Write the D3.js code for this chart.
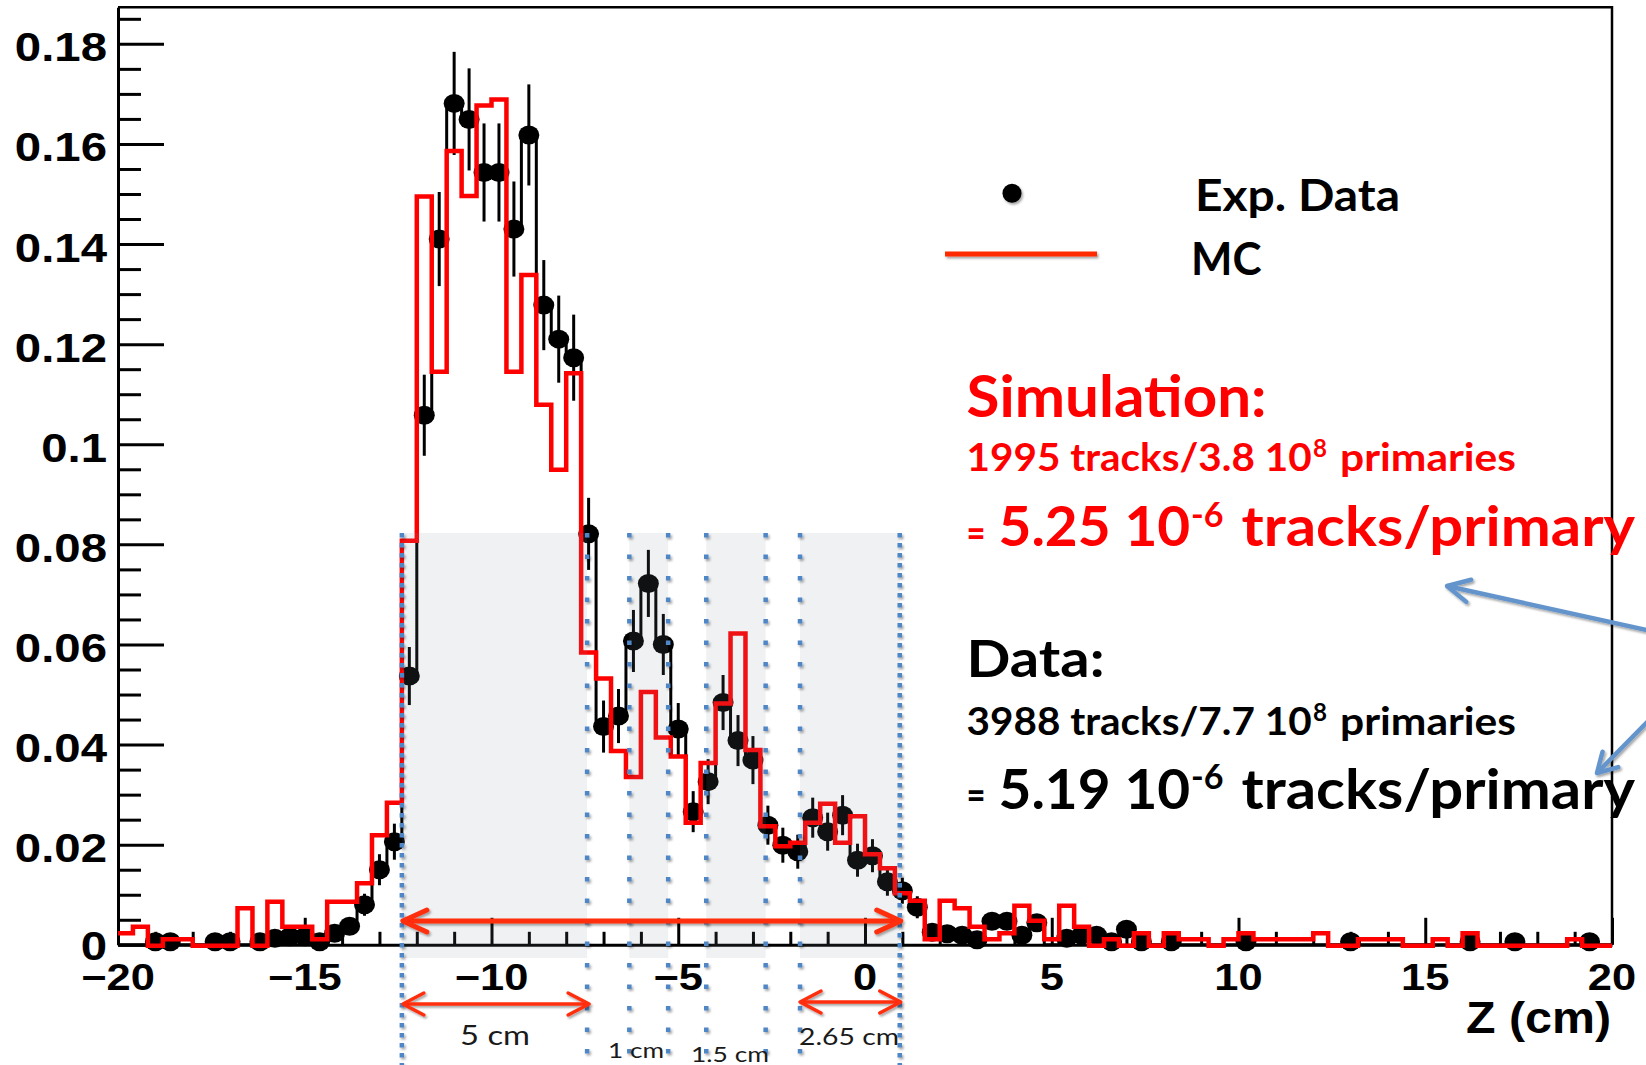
<!DOCTYPE html>
<html><head><meta charset="utf-8">
<script src="https://cdn.jsdelivr.net/npm/d3@7"></script>
<style>html,body{margin:0;padding:0;background:#fff;} svg{display:block;}</style>
</head><body>
<svg id="chart" width="1646" height="1065"></svg>
<script>
// ---------------- DATA ----------------
const binLow = -20, binWidth = 0.4;   // 100 bins, -20..20 cm
const mcValues = [
 0.0025,0.0038,0,0.0013,0.0013,0,0,0,0.0075,0,
 0.0088,0.0038,0.0038,0.0013,0.0088,0.0088,0.0125,0.0221,0.0286,0.0809,
 0.1497,0.1147,0.1588,0.1498,0.1679,0.1691,0.1147,0.1340,0.1081,0.0951,
 0.1144,0.0586,0.0534,0.0389,0.0337,0.0507,0.0416,0.0378,0.0246,0.0365,
 0.0484,0.0624,0.0391,0.0239,0.0199,0.0206,0.0246,0.0284,0.0206,0.0259,
 0.0183,0.0155,0.0105,0.0090,0.0013,0.0090,0.0075,0.0038,0.0013,0.0025,
 0.0080,0.0050,0.0013,0.0080,0.0038,0,0.0013,0,0.0025,0,
 0.0025,0.0013,0.0013,0,0.0013,0.0025,0.0013,0.0013,0.0013,0.0013,
 0.0025,0,0,0.0013,0.0013,0.0013,0,0,0.0013,0,
 0.0025,0,0,0,0,0,0,0.0013,0,0
];
const dataValues = [
 0,0,0.0006,0.0006,0,0,0.0006,0.0006,0,0.0006,
 0.0013,0.0016,0.0016,0.0006,0.0023,0.0037,0.0080,0.0150,0.0206,0.0537,
 0.1058,0.1410,0.1681,0.1649,0.1543,0.1543,0.1430,0.1618,0.1278,0.1210,
 0.1173,0.0821,0.0436,0.0457,0.0607,0.0722,0.0600,0.0431,0.0266,0.0326,
 0.0484,0.0408,0.0369,0.0239,0.0199,0.0186,0.0254,0.0226,0.0259,0.0169,
 0.0178,0.0126,0.0108,0.0075,0.0025,0.0022,0.0019,0.0010,0.0047,0.0047,
 0.0019,0.0044,0,0.0013,0.0019,0.0019,0.0006,0.0031,0.0006,0,
 0.0006,0,0,0,0,0.0006,0,0,0,0,
 0,0,0.0006,0,0,0,0,0,0,0,
 0.0006,0,0,0.0006,0,0,0,0,0.0006,0
];
const dataErrors = [
 0,0,0.0006,0.0006,0,0,0.0006,0.0006,0,0.0006,
 0.0009,0.0010,0.0010,0.0006,0.0012,0.0015,0.0022,0.0031,0.0036,0.0058,
 0.0081,0.0094,0.0103,0.0102,0.0098,0.0098,0.0095,0.0101,0.0090,0.0087,
 0.0086,0.0072,0.0052,0.0054,0.0062,0.0067,0.0061,0.0052,0.0041,0.0045,
 0.0055,0.0051,0.0048,0.0039,0.0035,0.0034,0.0040,0.0038,0.0040,0.0033,
 0.0033,0.0028,0.0026,0.0022,0.0013,0.0012,0.0011,0.0008,0.0017,0.0017,
 0.0011,0.0017,0,0.0009,0.0011,0.0011,0.0006,0.0014,0.0006,0,
 0.0006,0,0,0,0,0.0006,0,0,0,0,
 0,0,0.0006,0,0,0,0,0,0,0,
 0.0006,0,0,0.0006,0,0,0,0,0.0006,0
];
const yTickValues = [0,0.02,0.04,0.06,0.08,0.1,0.12,0.14,0.16,0.18];
const yTickLabels = ["0","0.02","0.04","0.06","0.08","0.1","0.12","0.14","0.16","0.18"];
const xTickValues = [-20,-15,-10,-5,0,5,10,15,20];
const xTickLabels = ["\u221220","\u221215","\u221210","\u22125","0","5","10","15","20"];
const xTitle = "Z (cm)";
// target segment boundaries (cm) and their labels
const segmentEdges = [-12.40,-7.44,-6.31,-5.27,-4.25,-2.66,-1.74,0.93];
const segmentLabels = ["5 cm","1 cm","1.5 cm","2.65 cm"];
const legendLabels = ["Exp. Data","MC"];

// ---------------- SETUP ----------------
const svg = d3.select("#chart");
const W = 1646, H = 1065;
const x = d3.scaleLinear().domain([-20,20]).range([118,1612]);
const y = d3.scaleLinear().domain([0,0.1873]).range([944.8,7.3]);
const defs = svg.append("defs");
const f = defs.append("filter").attr("id","shadow").attr("filterUnits","userSpaceOnUse")
  .attr("x",0).attr("y",0).attr("width",W).attr("height",H);
f.append("feDropShadow").attr("dx",1.5).attr("dy",2).attr("stdDeviation",1.3)
  .attr("flood-color","#000").attr("flood-opacity",0.35);

const tickFont = "'Liberation Sans', Arial, Helvetica, sans-serif";
const annFont = "Lato, 'Open Sans', sans-serif";

// ---------------- AXES ----------------
const yMinor = d3.range(0,0.1851,0.005).filter(v => Math.abs(Math.round(v/0.02)*0.02 - v) > 1e-6);
const xMinor = d3.range(-20,20.01,1).filter(v => v % 5 !== 0);

const gAx = svg.append("g");
gAx.append("g").attr("transform",`translate(${x(-20)},0)`)
  .call(d3.axisLeft(y).tickValues(yTickValues).tickSizeInner(-46).tickSizeOuter(0).tickFormat(""));
gAx.append("g").attr("transform",`translate(${x(-20)},0)`)
  .call(d3.axisLeft(y).tickValues(yMinor).tickSizeInner(-23).tickSizeOuter(0).tickFormat(""))
  .call(g => g.select(".domain").remove());
gAx.append("g").attr("transform",`translate(0,${y(0)})`)
  .call(d3.axisBottom(x).tickValues(xTickValues).tickSizeInner(-27).tickSizeOuter(0).tickFormat(""));
gAx.append("g").attr("transform",`translate(0,${y(0)})`)
  .call(d3.axisBottom(x).tickValues(xMinor).tickSizeInner(-13).tickSizeOuter(0).tickFormat(""))
  .call(g => g.select(".domain").remove());
gAx.selectAll(".tick line").attr("stroke","#000").attr("stroke-width",3);
gAx.selectAll(".domain").attr("stroke","#000").attr("stroke-width",3);
// top & right frame
gAx.append("path").attr("d", d3.line()([[x(-20),y.range()[1]],[x(20),y.range()[1]],[x(20),y(0)]]))
  .attr("fill","none").attr("stroke","#000").attr("stroke-width",2.5);

// tick labels
yTickValues.forEach((v,i) => {
  const base = v === 0 ? y(v)+15 : y(v)+17.5;
  svg.append("text").attr("transform",`translate(107,${base}) scale(1.17,1)`)
    .attr("text-anchor","end").attr("font-family",tickFont).attr("font-weight","bold")
    .attr("font-size",40.5).attr("fill","#000").text(yTickLabels[i]);
});
xTickValues.forEach((v,i) => {
  svg.append("text").attr("transform",`translate(${x(v)},990) scale(1.19,1)`)
    .attr("text-anchor","middle").attr("font-family",tickFont).attr("font-weight","bold")
    .attr("font-size",36.5).attr("fill","#000").text(xTickLabels[i]);
});
svg.append("text").attr("x",1466).attr("y",1033).attr("font-family",tickFont)
  .attr("font-weight","bold").attr("font-size",44).attr("textLength",145)
  .attr("lengthAdjust","spacingAndGlyphs").attr("fill","#000").text(xTitle);

// ---------------- HISTOGRAMS ----------------
const stepPts = vals => vals.map((v,k)=>({z: binLow + k*binWidth, v})).concat([{z: binLow + vals.length*binWidth, v: vals[vals.length-1]}]);
const step = d3.line().x(d=>x(d.z)).y(d=>y(d.v)).curve(d3.curveStepAfter);

const gData = svg.append("g");
gData.append("path").attr("d", step(stepPts(dataValues))).attr("fill","none")
  .attr("stroke","#000").attr("stroke-width",3);
const pts = dataValues.map((v,k)=>({z: binLow + (k+0.5)*binWidth, v, e: dataErrors[k]})).filter(d=>d.v>0);
gData.selectAll("line.err").data(pts).join("line").attr("class","err")
  .attr("x1",d=>x(d.z)).attr("x2",d=>x(d.z))
  .attr("y1",d=>y(d.v-d.e)).attr("y2",d=>y(d.v+d.e))
  .attr("stroke","#000").attr("stroke-width",3);
gData.selectAll("ellipse").data(pts).join("ellipse")
  .attr("cx",d=>x(d.z)).attr("cy",d=>y(d.v)).attr("rx",10.5).attr("ry",9.5).attr("fill","#000");

svg.append("path").attr("d", step(stepPts(mcValues))).attr("fill","none")
  .attr("stroke","#ff0000").attr("stroke-width",4.5).attr("stroke-linejoin","miter")
  .attr("transform","translate(0,1)");

// ---------------- OVERLAYS ----------------
const gOv = svg.append("g");
for (let i=0;i<segmentEdges.length;i+=2){
  gOv.append("rect").attr("x",x(segmentEdges[i])).attr("y",533)
    .attr("width",x(segmentEdges[i+1])-x(segmentEdges[i])).attr("height",958-533)
    .attr("fill","#7f8da0").attr("opacity",0.12);
}
segmentEdges.forEach((z,i) => {
  const outer = (i===0 || i===segmentEdges.length-1);
  gOv.append("line").attr("x1",x(z)).attr("x2",x(z)).attr("y1",533).attr("y2",H)
    .attr("stroke","#4f86c6").attr("stroke-width",4.5)
    .attr("stroke-dasharray", outer ? "4.5 5.5" : "4.5 17")
    .attr("filter","url(#shadow)");
});

// red dimension arrows
const red = "#ff2d0d";
function arrow(g, x1, x2, yy, w, hl, hh){
  g.append("line").attr("x1",x1+2).attr("x2",x2-2).attr("y1",yy).attr("y2",yy)
    .attr("stroke",red).attr("stroke-width",w);
  g.append("path").attr("d", d3.line()([[x1+hl,yy-hh],[x1,yy],[x1+hl,yy+hh]]))
    .attr("fill","none").attr("stroke",red).attr("stroke-width",w).attr("stroke-linecap","round").attr("stroke-linejoin","round");
  g.append("path").attr("d", d3.line()([[x2-hl,yy-hh],[x2,yy],[x2-hl,yy+hh]]))
    .attr("fill","none").attr("stroke",red).attr("stroke-width",w).attr("stroke-linecap","round").attr("stroke-linejoin","round");
}
const gAr = svg.append("g").attr("filter","url(#shadow)");
arrow(gAr, x(segmentEdges[0])+1, x(segmentEdges[7])+1, 921, 5, 24, 11);
arrow(gAr, x(segmentEdges[0])+1, x(segmentEdges[1])+2, 1004, 3.5, 21, 11);
arrow(gAr, x(segmentEdges[6]), x(segmentEdges[7])+1, 1002, 3.5, 21, 11);

// segment labels
const segLab = [
  {t: segmentLabels[0], x: 460, y: 1045, fs: 26, w: 70},
  {t: segmentLabels[1], x: 608, y: 1058, fs: 21, w: 56},
  {t: segmentLabels[2], x: 691, y: 1062, fs: 21, w: 78},
  {t: segmentLabels[3], x: 799, y: 1045, fs: 24, w: 100}
];
segLab.forEach(d => svg.append("text").attr("x",d.x).attr("y",d.y).attr("font-family",annFont)
  .attr("font-size",d.fs).attr("fill","#1a1a1a").attr("textLength",d.w)
  .attr("lengthAdjust","spacingAndGlyphs").text(d.t));

// ---------------- LEGEND ----------------
const gLeg = svg.append("g").attr("filter","url(#shadow)");
gLeg.append("circle").attr("cx",1012).attr("cy",193.3).attr("r",9.5).attr("fill","#000");
gLeg.append("line").attr("x1",945).attr("x2",1097).attr("y1",254).attr("y2",254)
  .attr("stroke","#ff2a00").attr("stroke-width",5);
function txt(t, xx, yy, fs, w, col, weight){
  return svg.append("text").attr("x",xx).attr("y",yy).attr("font-family",annFont)
    .attr("font-weight",weight||"bold").attr("font-size",fs).attr("fill",col)
    .attr("textLength",w).attr("lengthAdjust","spacingAndGlyphs").text(t);
}
txt(legendLabels[0], 1195, 211, 44, 205, "#000");
txt(legendLabels[1], 1191, 275, 46, 70.5, "#000");

// ---------------- ANNOTATIONS ----------------
const rd = "#ff0000";
txt("Simulation:", 966.6, 417, 58, 300, rd);
txt("1995 tracks/3.8 10", 966.6, 471.4, 37.5, 345, rd);
txt("8", 1313, 457, 24, 14, rd);
txt("primaries", 1340, 471.4, 37.5, 176, rd);
txt("=", 966.6, 547, 40, 19, rd);
txt("5.25 10", 998.5, 546.4, 55, 191.7, rd);
txt("-6", 1191, 527, 34, 32.5, rd);
txt("tracks/primary", 1241.6, 546.4, 55, 393.4, rd);

txt("Data:", 966.6, 676.8, 52, 138, "#000");
txt("3988 tracks/7.7 10", 966.6, 734.8, 37.5, 345, "#000");
txt("8", 1313, 720.5, 24, 14, "#000");
txt("primaries", 1340, 734.8, 37.5, 176, "#000");
txt("=", 966.6, 809, 40, 19, "#000");
txt("5.19 10", 998.5, 808.5, 55, 191.7, "#000");
txt("-6", 1191, 789, 34, 32.5, "#000");
txt("tracks/primary", 1241.6, 808.5, 55, 393.4, "#000");

// blue pointer arrows
const blue = "#6394cc";
function pointer(g, sx, sy, tx, ty, len, ang){
  g.append("line").attr("x1",sx).attr("y1",sy).attr("x2",tx).attr("y2",ty)
    .attr("stroke",blue).attr("stroke-width",4.5);
  const a = Math.atan2(sy-ty, sx-tx), r = ang*Math.PI/180;
  const p1 = [tx+len*Math.cos(a-r), ty+len*Math.sin(a-r)];
  const p2 = [tx+len*Math.cos(a+r), ty+len*Math.sin(a+r)];
  g.append("path").attr("d", d3.line()([p1,[tx,ty],p2])).attr("fill","none")
    .attr("stroke",blue).attr("stroke-width",4.5).attr("stroke-linecap","round").attr("stroke-linejoin","round");
}
const gBl = svg.append("g").attr("filter","url(#shadow)");
pointer(gBl, 1660, 633, 1447, 586, 25, 27);
pointer(gBl, 1660, 709, 1597, 773, 22, 30);
</script>
</body></html>
